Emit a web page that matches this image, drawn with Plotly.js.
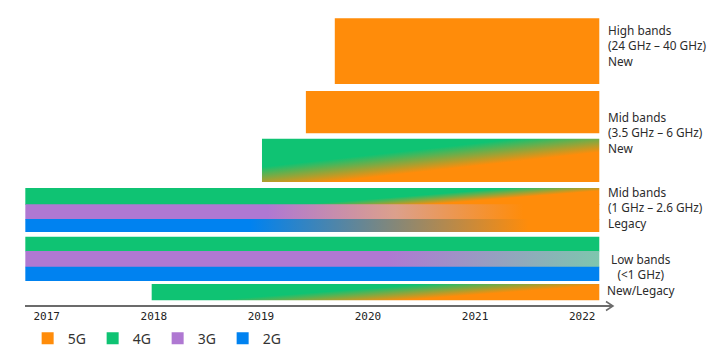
<!DOCTYPE html>
<html>
<head>
<meta charset="utf-8">
<script src="https://cdn.plot.ly/plotly-3.0.1.min.js"></script>
<style>html,body{margin:0;padding:0;background:#fff;}</style>
</head>
<body>
<div id="chart" style="width:720px;height:359px;"></div>
<script>
// ---------------- DATA ----------------
const yearTicks = [2017, 2018, 2019, 2020, 2021, 2022];
const technologies = ['5G', '4G', '3G', '2G'];
const bandLabels = [
  'High bands<br>(24 GHz – 40 GHz)<br>New',
  'Mid bands<br>(3.5 GHz – 6 GHz)<br>New',
  'Mid bands<br>(1 GHz – 2.6 GHz)<br>Legacy',
  'Low bands<br>(&lt;1 GHz)<br>New/Legacy'
];
const stripNames = ['High bands 5G', 'Mid bands new 5G', 'Mid bands new 4G to 5G',
  'Mid bands legacy 4G', 'Mid bands legacy 3G', 'Mid bands legacy 2G',
  'Low bands 4G', 'Low bands 3G', 'Low bands 2G', 'Low bands new 4G to 5G'];
const stripFromTech = ['5G', '5G', '4G', '4G', '3G', '2G', '4G', '3G', '2G', '4G'];
const stripToTech   = ['5G', '5G', '5G', '5G', '5G', '5G', '4G', '4G', '2G', '5G'];
const stripStart = [2019.69, 2019.42, 2019.01, 2016.80, 2016.80, 2016.80, 2016.80, 2016.80, 2016.80, 2017.98];
const stripEnd   = [2022.16, 2022.16, 2022.16, 2022.16, 2022.16, 2022.16, 2022.16, 2022.16, 2022.16, 2022.16];

// ---------------- STYLE / LAYOUT ----------------
const techColor = {'5G': '#FF8C0A', '4G': '#0FC373', '3G': '#AF78D2', '2G': '#0082F0'};
// vertical extent of each strip on the (hidden) row axis; adjacent strips overlap slightly to avoid seams
const stripTop    = [18.3, 91, 138.7, 188, 204.3, 219, 236.7, 251, 266.7, 284];
const stripBottom = [84, 133.3, 182, 204.9, 219.6, 232, 251.6, 267.3, 281, 300.3];
// colour fades (style)
const fades = {
  2: {kind: 'diagonal', from: [2020.568, 139.6], to: [2020.609, 179.4], stops: [0, 0.22, 0.78, 1]},
  3: {kind: 'diagonal', from: [2020.9076, 186.5], to: [2020.9225, 206.5], stops: [0, 0.25, 0.75, 1]},
  4: {kind: 'horizontal', start: 2019.06, stop: 2021.45, mid: '#DCA08C'},
  5: {kind: 'horizontal', start: 2018.90, stop: 2021.50},
  7: {kind: 'horizontal', start: 2020.18, stop: 2022.16, endColor: '#7EC6AE'},
  9: {kind: 'diagonal', from: [2020.384, 280.5], to: [2020.401, 304.5], stops: [0, 0.2, 0.8, 1]}
};
const labelX = [0.9889, 0.9889, 0.9889, 1.0481];
const labelY = [45.6, 132.3, 207.2, 274.7];
const labelAnchor = ['left', 'left', 'left', 'center'];
const labelAlign = ['left', 'left', 'left', 'center'];

const traces = stripNames.map((name, i) => {
  const x = [stripStart[i], stripEnd[i], stripEnd[i], stripStart[i], stripStart[i]];
  const y = [stripTop[i], stripTop[i], stripBottom[i], stripBottom[i], stripTop[i]];
  const c0 = techColor[stripFromTech[i]];
  const t = {
    type: 'scatter', mode: 'lines', x: x, y: y, fill: 'toself',
    line: {width: 0, color: 'rgba(0,0,0,0)'}, fillcolor: c0,
    hoverinfo: 'skip', showlegend: false, uid: 'strip' + i, name: name
  };
  const f = fades[i];
  if (f) {
    const c1 = f.endColor || techColor[stripToTech[i]];
    if (f.kind === 'horizontal') {
      const cs = f.mid ? [[0, c0], [0.5, f.mid], [1, c1]] : [[0, c0], [1, c1]];
      t.fillgradient = {type: 'horizontal', start: f.start, stop: f.stop, colorscale: cs};
    } else {
      t.fillgradient = {type: 'horizontal',
        colorscale: [[f.stops[0], c0], [f.stops[1], c0], [f.stops[2], c1], [f.stops[3], c1]]};
    }
  }
  return t;
});

technologies.forEach(tech => {
  traces.push({type: 'bar', x: [null], y: [null], name: tech,
    marker: {color: techColor[tech]}, hoverinfo: 'skip'});
});

const layout = {
  width: 720, height: 359,
  margin: {l: 25, r: 107, t: 0, b: 54, autoexpand: false},
  paper_bgcolor: '#ffffff', plot_bgcolor: 'rgba(0,0,0,0)',
  xaxis: {
    range: [2016.797, 2022.288], tickvals: yearTicks, ticktext: yearTicks.map(String),
    showgrid: false, zeroline: false, showline: true, linecolor: '#6b6b6b', linewidth: 2,
    ticks: '', tickfont: {family: 'DejaVu Sans Mono', size: 11, color: '#222'}, fixedrange: true
  },
  yaxis: {range: [305, 0], visible: false, fixedrange: true},
  showlegend: true,
  legend: {
    orientation: 'h', x: 0.0045, xanchor: 'left', y: -0.058, yanchor: 'top',
    entrywidth: 20, entrywidthmode: 'pixels',
    font: {family: 'Noto Sans', size: 14, color: '#333'}, bgcolor: 'rgba(0,0,0,0)'
  },
  annotations: bandLabels.map((txt, k) => ({
    xref: 'paper', yref: 'y', x: labelX[k], y: labelY[k],
    xanchor: labelAnchor[k], yanchor: 'middle', align: labelAlign[k],
    text: txt, showarrow: false,
    font: {family: 'Noto Sans', size: 11.8, color: '#2b2b2b'}
  })),
  shapes: [{
    type: 'path', xref: 'paper', yref: 'paper', xsizemode: 'pixel', ysizemode: 'pixel',
    xanchor: 1, yanchor: -0.00328, path: 'M-7,-4.5L0,0L-7,4.5',
    line: {color: '#6b6b6b', width: 1.5}
  }]
};

const gd = document.getElementById('chart');
function applyDiagonalFades() {
  if (!gd._fullLayout) return;
  const xa = gd._fullLayout.xaxis, ya = gd._fullLayout.yaxis;
  Object.keys(fades).forEach(k => {
    const f = fades[k];
    if (f.kind !== 'diagonal') return;
    const g = gd.querySelector('linearGradient[id$="-strip' + k + '"]');
    if (!g) return;
    // Plotly stores the horizontal stops in reversed order, so the vector runs to -> from
    g.setAttribute('gradientUnits', 'userSpaceOnUse');
    g.setAttribute('x1', xa.c2p(f.to[0]));
    g.setAttribute('y1', ya.c2p(f.to[1]));
    g.setAttribute('x2', xa.c2p(f.from[0]));
    g.setAttribute('y2', ya.c2p(f.from[1]));
  });
}
Plotly.newPlot(gd, traces, layout, {staticPlot: true}).then(() => {
  applyDiagonalFades();
  gd.on('plotly_afterplot', applyDiagonalFades);
});
</script>
</body>
</html>
